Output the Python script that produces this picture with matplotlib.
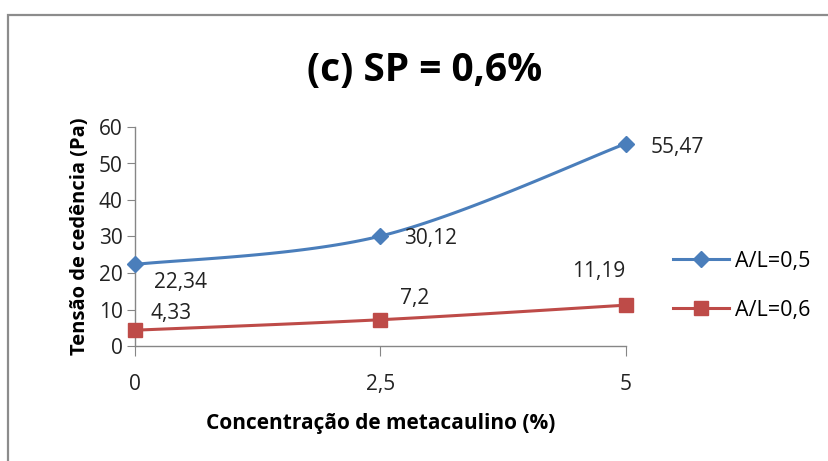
import numpy as np
import matplotlib.pyplot as plt
from matplotlib.patches import Rectangle
from matplotlib.lines import Line2D

plt.rcParams['font.family'] = ['Open Sans', 'DejaVu Sans']

# yield stress vs metakaolin content, SP = 0.6 %
concentracao = [0, 2.5, 5]
tick_labels = ['0', '2,5', '5']
al_05 = [22.34, 30.12, 55.47]
al_06 = [4.33, 7.2, 11.19]
label_05 = ['22,34', '30,12', '55,47']
label_06 = ['4,33', '7,2', '11,19']

BLUE = '#4A7EBB'
RED = '#BE4B48'
GRAY = '#868686'
FS = 15


def smooth(x, y, n=60):
    """Excel-style smoothed line: cubic Bezier segments with Catmull-Rom control points."""
    x = np.asarray(x, float)
    y = np.asarray(y, float)
    px = np.concatenate([[x[0]], x, [x[-1]]])
    py = np.concatenate([[y[0]], y, [y[-1]]])
    t = np.linspace(0, 1, n)[:, None]
    out = []
    for i in range(1, len(px) - 2):
        p0 = np.array([px[i], py[i]])
        p3 = np.array([px[i + 1], py[i + 1]])
        c1 = p0 + (np.array([px[i + 1], py[i + 1]]) - np.array([px[i - 1], py[i - 1]])) / 6
        c2 = p3 - (np.array([px[i + 2], py[i + 2]]) - np.array([px[i], py[i]])) / 6
        seg = ((1 - t) ** 3) * p0 + 3 * ((1 - t) ** 2) * t * c1 + 3 * (1 - t) * t ** 2 * c2 + t ** 3 * p3
        out.append(seg)
    seg = np.vstack(out)
    return seg[:, 0], seg[:, 1]


fig = plt.figure(figsize=(8.29, 4.61), dpi=100)
ax = fig.add_axes([135 / 829, 1 - 346 / 461, (626 - 135) / 829, (346 - 127) / 461])

# outer chart frame
fig.patches.append(Rectangle((8 / 829, -0.1), 1.2, 1 - 15 / 461 + 0.1, transform=fig.transFigure,
                             fill=False, edgecolor='#8c8c8c', linewidth=1.6, zorder=0))

sx, sy = smooth(concentracao, al_05)
ax.plot(sx, sy, color=BLUE, lw=2.2, solid_capstyle='round', clip_on=False, zorder=3)
ax.plot(concentracao, al_05, 'D', color=BLUE, ms=8, clip_on=False, zorder=4)
sx, sy = smooth(concentracao, al_06)
ax.plot(sx, sy, color=RED, lw=2.2, solid_capstyle='round', clip_on=False, zorder=3)
ax.plot(concentracao, al_06, 's', color=RED, ms=9.5, clip_on=False, zorder=4)

# data labels (offsets in points from each point)
off_05 = [(14, -13), (17, -2), (18, -3)]
off_06 = [(11, 12), (14, 15), (-39, 24)]
for x, y, s, o in zip(concentracao, al_05, label_05, off_05):
    ax.annotate(s, (x, y), xytext=o, textcoords='offset points', fontsize=FS,
                ha='left', va='center', color='#222222')
for x, y, s, o in zip(concentracao, al_06, label_06, off_06):
    ax.annotate(s, (x, y), xytext=o, textcoords='offset points', fontsize=FS,
                ha='left', va='center', color='#222222')

ax.set_xlim(0, 5)
ax.set_ylim(0, 60)
ax.set_xticks(concentracao)
ax.set_xticklabels(tick_labels)
ax.set_yticks(np.arange(0, 61, 10))
for side in ('top', 'right'):
    ax.spines[side].set_visible(False)
for side in ('left', 'bottom'):
    ax.spines[side].set_color(GRAY)
    ax.spines[side].set_linewidth(1.0)
ax.tick_params(axis='y', direction='out', length=6, color=GRAY, labelsize=FS, pad=3,
               labelcolor='#222222')
ax.tick_params(axis='x', direction='out', length=7, color=GRAY, labelsize=FS, pad=13,
               labelcolor='#222222')

ax.set_xlabel('Concentração de metacaulino (%)', fontsize=15, fontweight='bold', labelpad=13)
ax.set_ylabel('Tensão de cedência (Pa)', fontsize=14.5, fontweight='bold', labelpad=6)
fig.text(425 / 829, 1 - 70 / 461, '(c) SP = 0,6%', fontsize=28, fontweight='bold',
         ha='center', va='center')

handles = [Line2D([], [], color=BLUE, lw=2.2, marker='D', ms=8),
           Line2D([], [], color=RED, lw=2.2, marker='s', ms=9.5)]
fig.legend(handles, ['A/L=0,5', 'A/L=0,6'], loc='center left',
           bbox_to_anchor=(654 / 829, 1 - 286 / 461), frameon=False, fontsize=15.5,
           handlelength=2.6, labelspacing=1.3, handletextpad=0.25)

fig.savefig('out.png', dpi=100)
